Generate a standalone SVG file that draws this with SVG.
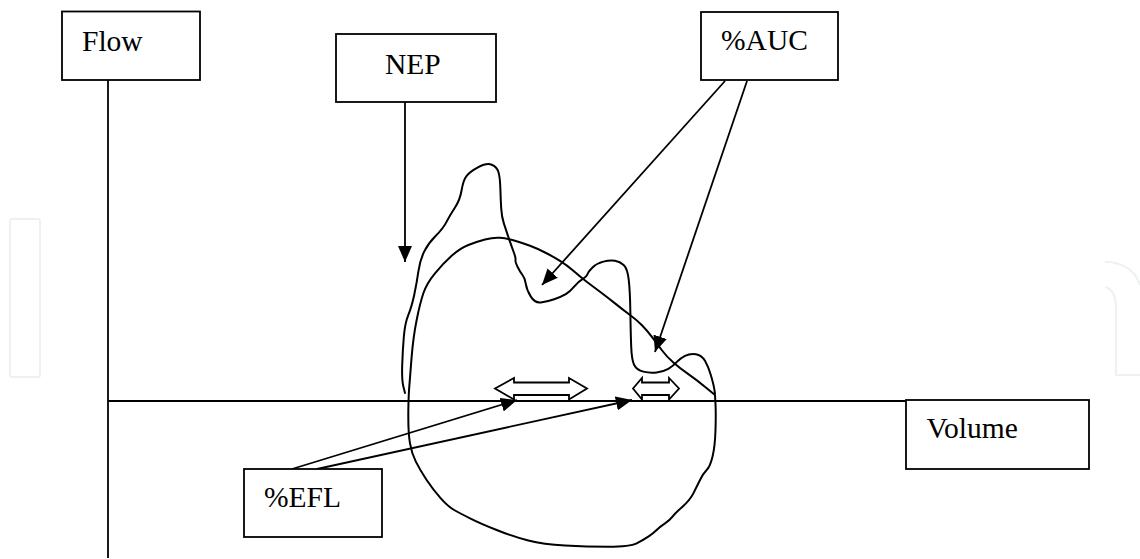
<svg xmlns="http://www.w3.org/2000/svg" width="1140" height="559" viewBox="0 0 1140 559">
<style>
.box{fill:#fff;stroke:#000;stroke-width:1.8}
.lbl{font-family:"Liberation Serif",Tinos,"Times New Roman","DejaVu Serif","Noto Serif",serif;font-size:29.5px;fill:#000}
.ln{fill:none;stroke:#000;stroke-width:1.8}
.cv{fill:none;stroke:#000;stroke-width:2;stroke-linejoin:round;stroke-linecap:round}
.wm{fill:none;stroke:#eef1f1;stroke-width:2.2}
.dbl{fill:#fff;stroke:#000;stroke-width:1.8;stroke-linejoin:miter}
</style>
<defs>
<marker id="ah" viewBox="0 0 16 14" refX="16" refY="7" markerWidth="16" markerHeight="14" markerUnits="userSpaceOnUse" orient="auto">
<path d="M0,0 L16,7 L0,14 Z" fill="#000"/>
</marker>
</defs>
<rect width="1140" height="559" fill="#fff"/>
<g id="watermark">
<rect class="wm" x="10" y="219" width="30" height="158" rx="2"/>
<path class="wm" d="M1105,262 Q1132,262 1140,285"/>
<path class="wm" d="M1105,287 Q1116,290 1116,308 L1116,375 L1140,375"/>
</g>
<g id="axes">
<line class="ln" x1="108" y1="80" x2="108" y2="558"/>
<line class="ln" x1="108" y1="401" x2="906" y2="401"/>
</g>
<g id="curves">
<path class="cv" d="M405,393 L403.35,386.5 Q401.7,380 402.2,365 Q402.7,350 403.85,336.5 Q405,323 408.35,314.85 Q411.7,306.7 414.2,295 Q416.7,283.3 418.35,271.65 Q420,260 424.15,251.65 Q428.3,243.3 435.8,235.8 Q443.3,228.3 446.65,221.65 Q450,215 455,207.5 Q460,200 461.65,190 Q463.3,180 466.65,175.85 Q470,171.7 478.35,167.2 Q486.7,162.7 491.7,164.7 Q496.7,166.7 498.35,171.7 Q500,176.7 500.35,188.35 Q500.7,200 501.2,208.35 Q501.7,216.7 503.85,223.35 Q506,230 508.85,238.35 Q511.7,246.7 513.85,252.5 Q516,258.3 515.5,260 Q515,261.7 517.5,266.7 Q520,271.7 522.5,275 Q525,278.3 525.85,284.15 Q526.7,290 530.85,296.65 Q535,303.3 540.85,302.5 Q546.7,301.7 554.2,299.2 Q561.7,296.7 565.85,294.2 Q570,291.7 574.15,286.7 Q578.3,281.7 582.5,279.2 Q586.7,276.7 587.5,274.2 Q588.3,271.7 592.5,267.5 Q596.7,263.3 603.35,261.65 Q610,260 615,260.85 Q620,261.7 623.65,265 Q627.3,268.3 628.65,279.15 Q630,290 630.35,311.65 Q630.7,333.3 631.2,346.65 Q631.7,360 634.2,365 Q636.7,370 643.35,371.65 Q650,373.3 656.65,372.5 Q663.3,371.7 668.3,368.85 Q673.3,366 676.65,362.15 Q680,358.3 685,355.8 Q690,353.3 695.85,354.15 Q701.7,355 705,360.85 Q708.3,366.7 710.8,375 Q713.3,383.3 714.15,388.3 L715,393.3"/>
<path class="cv" d="M409.15,388.35 Q410,376.7 411.65,356.7 Q413.3,336.7 416.65,320 Q420,303.3 423.35,293.3 Q426.7,283.3 435,273.3 Q443.3,263.3 451.65,255.8 Q460,248.3 468.35,245 Q476.7,241.7 485,239.5 Q493.3,237.3 500,237.8 Q506.7,238.3 515,240.8 Q523.3,243.3 530,245.8 Q536.7,248.3 545,252.5 Q553.3,256.7 560,260.85 Q566.7,265 573.35,270.85 Q580,276.7 586.65,281.7 Q593.3,286.7 600,291.7 Q606.7,296.7 615,303.35 Q623.3,310 630,315 Q636.7,320 641.7,325 Q646.7,330 651.7,336.65 Q656.7,343.3 661.7,350 Q666.7,356.7 673.35,362.5 Q680,368.3 688.35,374.15 Q696.7,380 705.85,387.5 L715,395 L715.5,404.15 Q716,413.3 715.5,430 Q715,446.7 712.5,456.7 Q710,466.7 706.65,470 Q703.3,473.3 700,480 Q696.7,486.7 693.35,493.35 Q690,500 682.5,506.65 Q675,513.3 672.5,516.65 Q670,520 665,523.35 Q660,526.7 656.65,530 Q653.3,533.3 648.3,536.65 Q643.3,540 636.65,543.35 Q630,546.7 608.35,546.7 Q586.7,546.7 565,545.5 Q543.3,544.3 528.3,540.5 Q513.3,536.7 496.65,530 Q480,523.3 470,518.3 Q460,513.3 454.15,510 Q448.3,506.7 440.8,498.35 Q433.3,490 426.65,480 Q420,470 415.85,461.65 Q411.7,453.3 410,443.3 Q408.3,433.3 408.3,416.65 Q408.3,400 409.15,388.35 Z"/>
</g>
<g id="doublearrows">
<path class="dbl" d="M495,388.5 L514,378 L514,382.5 L569,382.5 L569,378 L587,388.5 L569,399.5 L569,395 L514,395 L514,399.5 Z"/>
<path class="dbl" d="M633,388.5 L642,378 L642,382.5 L669,382.5 L669,378 L679,388.5 L669,399.5 L669,395 L642,395 L642,399.5 Z"/>
</g>
<g id="connectors">
<line class="ln" x1="405" y1="102" x2="405" y2="262" marker-end="url(#ah)"/>
<line class="ln" x1="725" y1="81" x2="542" y2="285" marker-end="url(#ah)"/>
<line class="ln" x1="747" y1="81" x2="655" y2="352" marker-end="url(#ah)"/>
<line class="ln" x1="292" y1="469" x2="517" y2="400" marker-end="url(#ah)"/>
<line class="ln" x1="317" y1="469" x2="632" y2="400" marker-end="url(#ah)"/>
</g>
<g id="node-flow">
<rect class="box" x="62" y="11.5" width="138" height="68.5"/>
<text class="lbl" x="82" y="50.5" font-family="Liberation Serif, serif">Flow</text>
</g>
<g id="node-nep">
<rect class="box" x="336" y="34" width="160" height="68"/>
<text class="lbl" x="385" y="74">NEP</text>
</g>
<g id="node-auc">
<rect class="box" x="701" y="12" width="137" height="68"/>
<text class="lbl" x="721" y="50">%AUC</text>
</g>
<g id="node-efl">
<rect class="box" x="244" y="469" width="138" height="68"/>
<text class="lbl" x="264" y="507">%EFL</text>
</g>
<g id="node-volume">
<rect class="box" x="906" y="400" width="183" height="69"/>
<text class="lbl" x="926.5" y="438">Volume</text>
</g>
</svg>
